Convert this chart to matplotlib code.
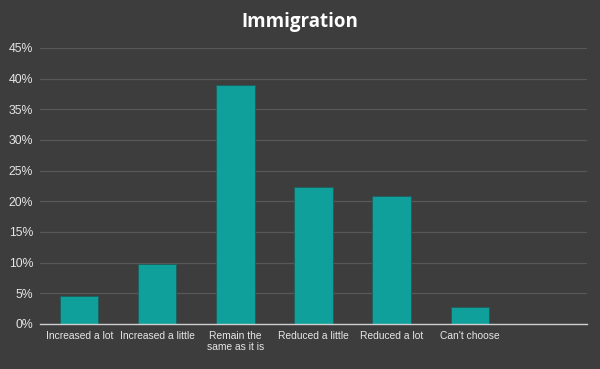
import matplotlib
matplotlib.use("Agg")
import matplotlib.pyplot as plt
from matplotlib.ticker import FuncFormatter

categories = ["Increased a lot", "Increased a little", "Remain the\nsame as it is",
              "Reduced a little", "Reduced a lot", "Can't choose", ""]
values = [0.046, 0.098, 0.389, 0.223, 0.209, 0.028, 0.0]
yticks = [0, 0.05, 0.10, 0.15, 0.20, 0.25, 0.30, 0.35, 0.40, 0.45]

bg = "#3d3d3d"
fig = plt.figure(figsize=(6, 3.69), dpi=100, facecolor=bg)
ax = fig.add_axes([0.067, 0.122, 0.911, 0.748], facecolor=bg)

x = list(range(len(categories)))
ax.bar(x[:6], values[:6], width=0.49, color="#10a09c", edgecolor="#1f5f5e", linewidth=0.6, zorder=3)

ax.set_xlim(-0.5, len(categories) - 0.5)
ax.set_ylim(0, 0.45)
ax.set_yticks(yticks)
ax.yaxis.set_major_formatter(FuncFormatter(lambda v, p: f"{v*100:.0f}%"))
ax.set_xticks(x)
ax.set_xticklabels(categories, linespacing=1.1)

lab_font = ["Liberation Sans", "DejaVu Sans"]
for t in ax.get_xticklabels():
    t.set_family(lab_font)
    t.set_fontsize(7.4)
    t.set_color("#e6e6e6")
for t in ax.get_yticklabels():
    t.set_family(lab_font)
    t.set_fontsize(8.8)
    t.set_color("#e6e6e6")

ax.tick_params(axis="x", length=0, pad=5)
ax.tick_params(axis="y", length=0, pad=5)
ax.grid(axis="y", color="#585858", linewidth=0.9, zorder=0)
for s in ["top", "right", "left"]:
    ax.spines[s].set_visible(False)
ax.spines["bottom"].set_color("#cfcfcf")
ax.spines["bottom"].set_linewidth(1.0)
ax.spines["bottom"].set_zorder(4)

fig.text(0.5, 0.94, "Immigration", ha="center", va="center", color="white",
         fontsize=13.5, fontweight="bold", family=["Open Sans", "DejaVu Sans"])

fig.savefig("out.png", dpi=100, facecolor=bg)
